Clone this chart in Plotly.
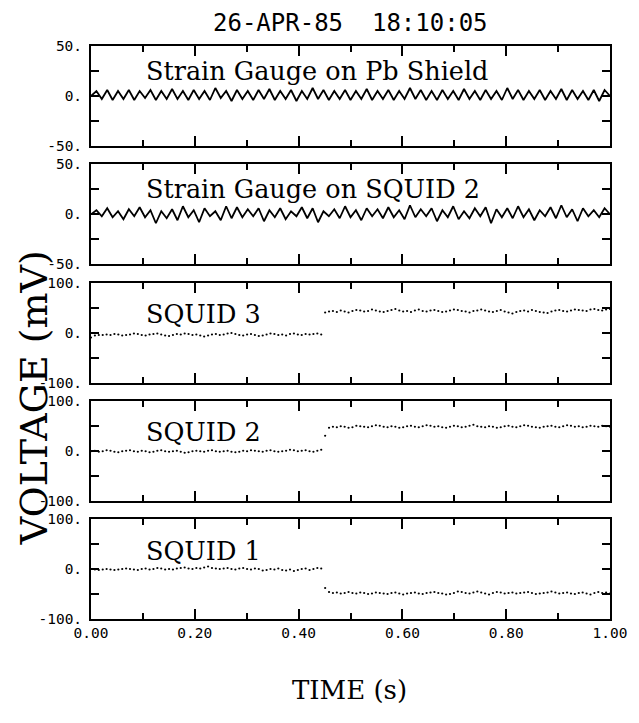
import numpy as np
import plotly.graph_objects as go

# ---------------- data ----------------
title_text = "26-APR-85  18:10:05"
panel_labels = ["Strain Gauge on Pb Shield", "Strain Gauge on SQUID 2", "SQUID 3", "SQUID 2", "SQUID 1"]
panel_limits = [50, 50, 100, 100, 100]
x_tick_vals = [0.0, 0.2, 0.4, 0.6, 0.8, 1.0]
x_tick_text = ["0.00", "0.20", "0.40", "0.60", "0.80", "1.00"]

strain_pb = [0, 5, -3, 6, -4, 5, -3, 6, -4, 5, -2, 6, -4, 5, -3, 7, -3, 5, -4, 6,
             -3, 5, -4, 8, -2, 5, -5, 6, -3, 5, -4, 6, -3, 7, -4, 5, -3, 6, -5, 5,
             -3, 8, -3, 6, -4, 5, -3, 6, -4, 5, -3, 7, -4, 5, -3, 6, -4, 5, -3, 8,
             -3, 6, -4, 5, -4, 6, -3, 5, -4, 7, -3, 5, -4, 6, -3, 5, -4, 8, -3, 6,
             -4, 5, -3, 6, -4, 5, -3, 7, -4, 6, -3, 5, -4, 6, -5, 6, 0]

strain_sq2 = [0, 4, -2, 6, -3, 3, -5, 5, -2, 7, -3, 4, -9, 3, -4, 5, -6, 8, -3, 4,
              -8, 6, -2, 3, -6, 8, -4, 7, -3, 5, -2, 6, -7, 4, -3, 6, -5, 3, -2, 7,
              -4, 6, -8, 3, -2, 5, -4, 8, -3, 4, -6, 6, -2, 5, -4, 7, -3, 4, -5, 9,
              -3, 5, -2, 6, -7, 4, -3, 8, -5, 3, -4, 6, -2, 7, -9, 5, -3, 6, -4, 8,
              -3, 5, -6, 4, -2, 7, -4, 9, -3, 5, -7, 6, -2, 4, -3, 6, 0]

squid3 = [-10, -6, -5, -5, -4, -5, -3, -4, -6, -5,
          -4, -2, -3, -5, -6, -4, -3, -2, -4, -6,
          -7, -5, -3, -4, -2, -3, -5, -4, -6, -8,
          -6, -4, -3, -5, -4, -2, -1, -3, -5, -6,
          -4, -3, -5, -7, -6, -4, -2, -3, -5, -4,
          -6, -3, -2, -4, -5, -3, -4, -3, -2, -4,
          40, 42, 43, 41, 44, 42, 40, 43, 45, 44,
          42, 43, 46, 44, 42, 41, 43, 45, 47, 44,
          42, 43, 41, 44, 46, 43, 42, 44, 45, 43,
          41, 42, 44, 46, 45, 43, 42, 40, 43, 44,
          46, 44, 42, 41, 43, 45, 42, 40, 38, 41,
          43, 44, 42, 45, 43, 41, 40, 39, 42, 44,
          45, 43, 42, 44, 46, 45, 44, 43, 46, 47,
          45, 44, 46, 47]

squid2 = [-1, 0, -2, -1, 1, 0, -2, -3, -1, 0,
          1, -1, -2, 0, -1, -3, -2, 0, 1, -1,
          -2, -1, 0, -2, -4, -3, -1, 0, -1, -2,
          0, 1, -1, -2, -1, 0, -2, -3, -2, 0,
          -1, 1, 0, -1, -2, 0, 1, -1, -2, -1,
          0, 2, 1, -1, 0, 1, -1, -2, 0, 2,
          30, 46, 48, 47, 49, 48, 46, 47, 50, 49,
          48, 47, 49, 51, 50, 48, 47, 49, 48, 46,
          47, 49, 50, 48, 47, 49, 51, 50, 48, 49,
          47, 46, 48, 50, 49, 47, 48, 50, 52, 49,
          48, 47, 49, 48, 46, 47, 49, 50, 48, 47,
          49, 51, 50, 48, 47, 46, 48, 49, 50, 48,
          47, 49, 51, 50, 48, 49, 47, 48, 50, 49,
          48, 50, 49, 48]

squid1 = [0, -1, -2, -1, 0, -1, -2, -1, 0, 1,
          0, -1, -2, 0, 1, -1, 0, 2, 1, -1,
          0, -1, 1, 2, 3, 1, 0, 2, 1, 3,
          5, 2, 1, 0, 1, 2, 0, -1, 1, 2,
          0, -1, 1, 0, -3, -2, 0, -1, 1, -2,
          -3, -1, -4, -2, 0, 1, -2, 0, 2, 1,
          -38, -46, -48, -47, -49, -48, -46, -48, -49, -47,
          -48, -50, -49, -47, -48, -49, -50, -48, -47, -49,
          -51, -49, -48, -47, -49, -50, -48, -47, -46, -48,
          -49, -51, -50, -48, -45, -46, -48, -49, -47, -45,
          -47, -49, -51, -48, -46, -47, -49, -48, -47, -49,
          -48, -47, -46, -48, -50, -49, -48, -47, -45, -47,
          -49, -48, -47, -49, -50, -48, -47, -49, -51, -48,
          -46, -48, -47, -49]

series = [strain_pb, strain_sq2, squid3, squid2, squid1]
is_line = [True, True, False, False, False]

# ---------------- layout (pixels) ----------------
# the page body adds an 8 px margin, so the figure is sized to fit the window
W, H = 631, 707
L, R, T, B = 83, 613, 38, 611
GAP = 18.25
ph = B - T
hpan = (ph - 4 * GAP) / 5
panels_px = [(T + k * (hpan + GAP), T + k * (hpan + GAP) + hpan) for k in range(5)]

fig = go.Figure()
tick_font = dict(family="DejaVu Sans Mono", size=14.5, color="black")
serif = "DejaVu Serif"

for i, vals in enumerate(series):
    n = i + 1
    xa = "x" if n == 1 else f"x{n}"
    ya = "y" if n == 1 else f"y{n}"
    t = np.linspace(0.0, 1.0, len(vals))
    if is_line[i]:
        fig.add_trace(go.Scatter(x=t, y=vals, mode="lines", xaxis=xa, yaxis=ya,
                                 line=dict(color="black", width=1.8), showlegend=False))
    else:
        fig.add_trace(go.Scatter(x=t, y=vals, mode="markers", xaxis=xa, yaxis=ya,
                                 marker=dict(color="black", size=2.2), showlegend=False))
    top, bot = panels_px[i]
    dom = [max(0, (B - bot) / ph), min(1, (B - top) / ph)]
    lim = panel_limits[i]
    xkey = "xaxis" if n == 1 else f"xaxis{n}"
    ykey = "yaxis" if n == 1 else f"yaxis{n}"
    fig.update_layout(**{
        xkey: dict(domain=[0, 1], anchor=ya, range=[0, 1], showgrid=False, zeroline=False,
                   showline=True, linecolor="black", linewidth=2, mirror="ticks",
                   ticks="inside", ticklen=10, tickwidth=1.5, tickcolor="black",
                   tickvals=x_tick_vals, ticktext=x_tick_text, ticklabeloverflow="allow",
                   showticklabels=(n == 5), tickfont=dict(family="DejaVu Sans Mono", size=14.5, color="black"),
                   minor=dict(ticks="inside", ticklen=6, tickwidth=1.5, tickcolor="black", dtick=0.1, tick0=0, showgrid=False)),
        ykey: dict(domain=dom, anchor=xa, range=[-lim, lim], showgrid=False, zeroline=False,
                   showline=True, linecolor="black", linewidth=2, mirror="ticks",
                   ticks="inside", ticklen=8, tickwidth=1.5, tickcolor="black",
                   tickvals=[-lim, -lim / 2, 0, lim / 2, lim],
                   ticktext=[f"{-lim}.", "", "0.", "", f"{lim}."],
                   tickfont=tick_font, ticklabelstandoff=4),
    })
    ylab = 25 if i < 2 else 37
    fig.add_annotation(x=0.102, y=ylab * 1.0, xref=xa, yref=ya, text=panel_labels[i],
                       showarrow=False, xanchor="left", yanchor="middle",
                       font=dict(family=serif, size=25.5, color="black"))

fig.add_annotation(x=(348 - L) / (R - L), y=1 + (T - 15) / ph, xref="paper", yref="paper",
                   text=title_text.replace("  ", "&nbsp;&nbsp;"), showarrow=False,
                   xanchor="center", yanchor="middle",
                   font=dict(family="DejaVu Sans Mono", size=24, color="black"))
fig.add_annotation(x=(347 - L) / (R - L), y=-(682 - B) / ph, xref="paper", yref="paper",
                   text="TIME (s)", showarrow=False, xanchor="center", yanchor="middle",
                   font=dict(family=serif, size=26, color="black"))
fig.add_annotation(x=(25 - L) / (R - L), y=(B - 390) / ph, xref="paper", yref="paper",
                   text="VOLTAGE (mV)", showarrow=False, textangle=-90,
                   xanchor="center", yanchor="middle",
                   font=dict(family=serif, size=38, color="black"))

fig.update_layout(width=W, height=H, margin=dict(l=L, r=W - R, t=T, b=H - B),
                  paper_bgcolor="white", plot_bgcolor="white")

fig.write_html("out.html")
